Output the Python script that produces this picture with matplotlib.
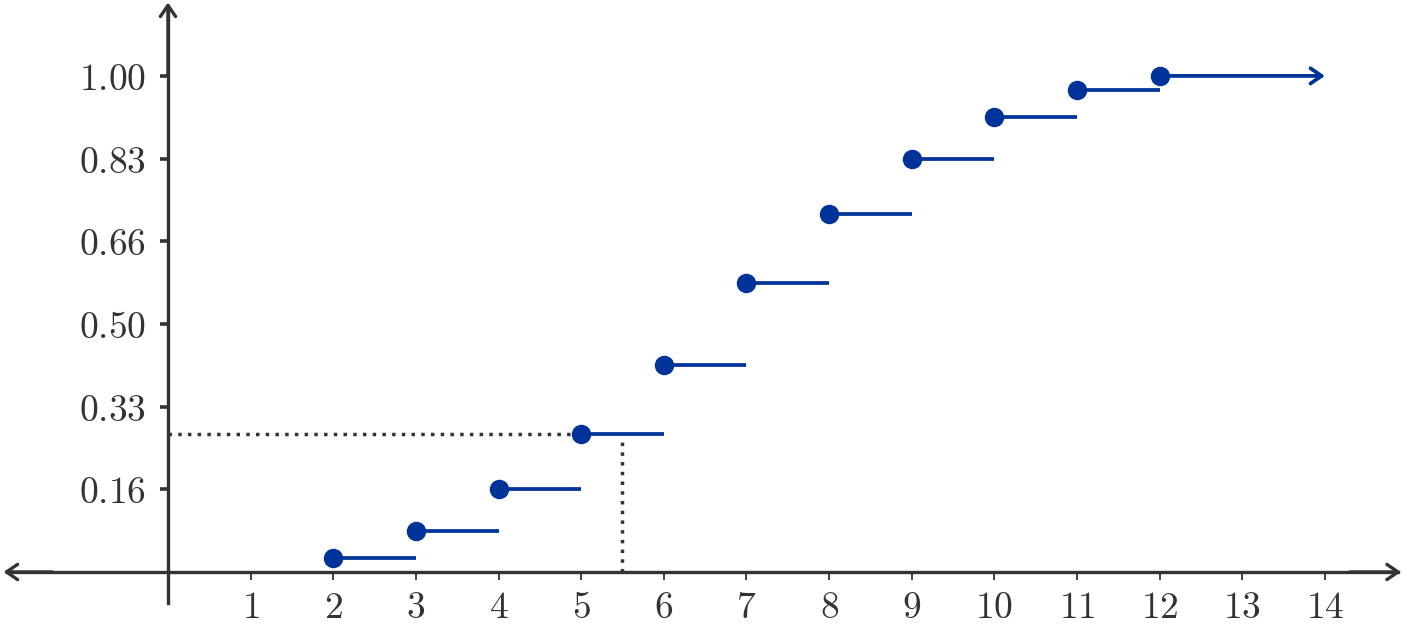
import matplotlib
matplotlib.use("Agg")
import matplotlib.pyplot as plt
import numpy as np

plt.rcParams['mathtext.fontset'] = 'cm'

# sum of two dice: cumulative distribution
sums = [2, 3, 4, 5, 6, 7, 8, 9, 10, 11, 12]
counts = [1, 3, 6, 10, 15, 21, 26, 30, 33, 35, 36]
cdf = np.array(counts) / 36.0

xticks = list(range(1, 15))
yticks = [1/6, 2/6, 3/6, 4/6, 5/6, 1.0]
ytick_labels = ['0.16', '0.33', '0.50', '0.66', '0.83', '1.00']

blue = '#003399'
grey = '#333333'

fig = plt.figure(figsize=(14.10, 6.33), dpi=100)
ax = fig.add_axes([0, 0, 1, 1])
ax.set_xlim(-2.033, 15.03)
ax.set_ylim(-0.123, 1.153)

for s in ['top', 'right']:
    ax.spines[s].set_visible(False)
ax.spines['left'].set_position(('data', 0))
ax.spines['bottom'].set_position(('data', 0))
ax.spines['left'].set_bounds(-0.0625, 1.13)
ax.spines['bottom'].set_bounds(-1.95, 14.88)
for s in ['left', 'bottom']:
    ax.spines[s].set_color(grey)
    ax.spines[s].set_linewidth(2.4)

ahead = dict(arrowstyle='->,head_length=0.8,head_width=0.55', lw=2.4, color=grey,
             shrinkA=0, shrinkB=0)
ax.annotate('', xy=(14.92, 0), xytext=(14.3, 0), arrowprops=ahead)
ax.annotate('', xy=(-1.99, 0), xytext=(-1.4, 0), arrowprops=ahead)
ax.annotate('', xy=(0, 1.148), xytext=(0, 1.0), arrowprops=ahead)

ax.set_xticks(xticks)
ax.set_xticklabels(['$%d$' % t for t in xticks])
ax.set_yticks(yticks)
ax.set_yticklabels(['$%s$' % t for t in ytick_labels])
ax.tick_params(axis='x', direction='out', length=6, width=1.3, colors=grey,
               labelsize=27, pad=7)
ax.tick_params(axis='y', direction='out', length=6, width=2.6, colors=grey,
               labelsize=27, pad=10)

# dotted guide lines
ax.plot([0, 5], [cdf[3], cdf[3]], color=grey, lw=2.5, ls=(0, (1, 1.8)))
ax.plot([5.5, 5.5], [0, cdf[3] - 0.012], color=grey, lw=2.5, ls=(0, (1, 1.8)))

# step segments
for x, f in zip(sums[:-1], cdf[:-1]):
    ax.plot([x, x + 1], [f, f], color=blue, lw=2.7, solid_capstyle='butt')
ax.annotate('', xy=(14, cdf[-1]), xytext=(sums[-1], cdf[-1]),
            arrowprops=dict(arrowstyle='->,head_length=0.8,head_width=0.55',
                            lw=2.7, color=blue, shrinkA=0, shrinkB=0))
ax.plot(sums, cdf, 'o', color=blue, ms=13, zorder=5)

fig.savefig('out.png', dpi=100)
